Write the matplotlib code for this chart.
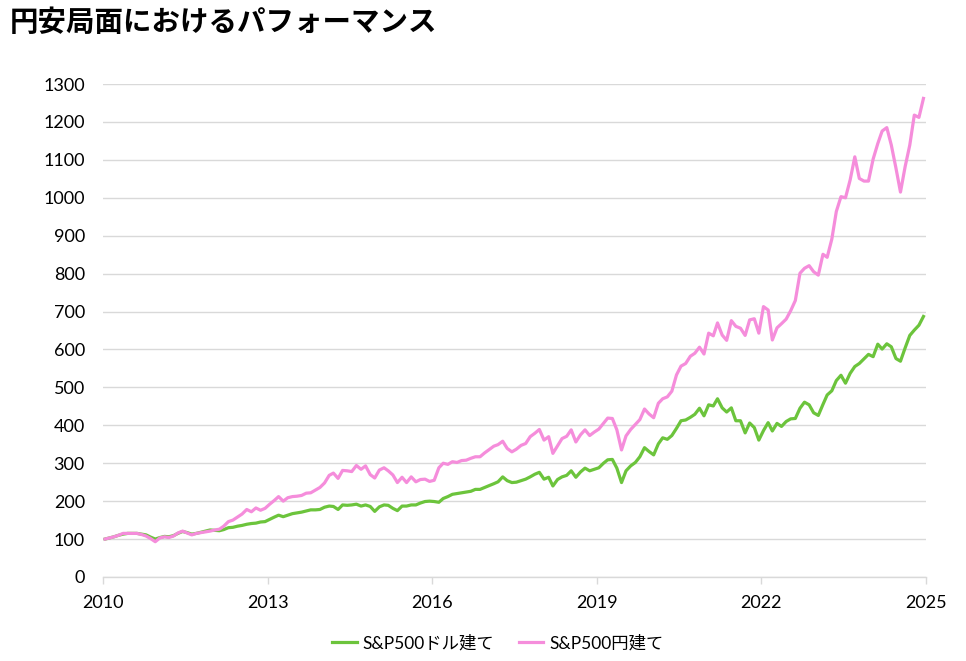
import numpy as np
import pandas as pd
import matplotlib
matplotlib.use("Agg")
import matplotlib.pyplot as plt
import matplotlib.dates as mdates

plt.rcParams['font.family'] = ['Lato', 'Noto Sans CJK JP', 'DejaVu Sans']

#%% data (monthly, Jan 2010 = 100)

months = pd.date_range('2010-01-01', periods=180, freq='MS') + pd.Timedelta(days=14)

sp500_usd = [
    100, 103, 106, 110, 113, 115, 115, 115, 113, 111, 105, 100,   # 2010
    104, 107, 106, 109, 115, 120, 117, 113, 115, 118, 121, 124,   # 2011
    123, 122, 125, 130, 131, 134, 136, 139, 141, 142, 145, 146,   # 2012
    152, 158, 163, 159, 163, 167, 169, 171, 174, 177, 177, 178,   # 2013
    184, 187, 186, 178, 190, 189, 190, 192, 187, 190, 186, 173,   # 2014
    185, 190, 189, 181, 175, 187, 187, 190, 190, 195, 199, 200,   # 2015
    199, 197, 207, 212, 218, 220, 222, 224, 226, 231, 231, 236,   # 2016
    241, 246, 251, 264, 254, 249, 250, 254, 258, 264, 271, 276,   # 2017
    258, 263, 240, 257, 264, 268, 280, 263, 277, 287, 280, 284,   # 2018
    288, 300, 309, 310, 287, 249, 280, 293, 302, 317, 341, 331,   # 2019
    322, 351, 367, 363, 373, 392, 412, 414, 421, 429, 445, 425,   # 2020
    454, 451, 470, 446, 435, 446, 412, 412, 380, 406, 394, 361,   # 2021
    386, 407, 385, 405, 397, 410, 417, 418, 445, 461, 454, 433,   # 2022
    426, 455, 480, 491, 518, 532, 511, 537, 555, 563, 575, 587,   # 2023
    581, 614, 601, 615, 607, 576, 569, 604, 637, 651, 664, 687,   # 2024
]

sp500_jpy = [
    100, 103, 106, 110, 115, 115, 115, 115, 112, 108, 101, 93,    # 2010
    103, 106, 104, 108, 116, 121, 116, 111, 115, 117, 119, 121,   # 2011
    124, 126, 134, 146, 150, 158, 166, 178, 172, 182, 176, 181,   # 2012
    192, 202, 212, 200, 209, 212, 213, 215, 221, 222, 229, 236,   # 2013
    248, 268, 274, 260, 281, 280, 278, 294, 284, 293, 270, 261,   # 2014
    282, 288, 280, 269, 249, 263, 249, 264, 251, 257, 258, 252,   # 2015
    255, 288, 300, 297, 304, 302, 307, 308, 313, 317, 317, 327,   # 2016
    336, 345, 349, 358, 339, 330, 337, 347, 352, 370, 379, 389,   # 2017
    361, 370, 326, 346, 365, 371, 388, 356, 375, 388, 373, 382,   # 2018
    390, 405, 419, 418, 388, 335, 372, 389, 402, 415, 443, 430,   # 2019
    420, 458, 470, 475, 490, 533, 556, 563, 582, 590, 606, 588,   # 2020
    643, 636, 670, 638, 624, 676, 661, 656, 637, 678, 681, 643,   # 2021
    713, 704, 625, 657, 668, 680, 702, 729, 801, 814, 821, 805,   # 2022
    796, 851, 843, 891, 964, 1003, 1000, 1047, 1108, 1051, 1044, 1044,  # 2023
    1102, 1143, 1176, 1185, 1139, 1078, 1015, 1082, 1139, 1218, 1212, 1262,  # 2024
]

label_usd = 'S&P500ドル建て'
label_jpy = 'S&P500円建て'
title = '円安局面におけるパフォーマンス'
year_ticks = [2010, 2013, 2016, 2019, 2022, 2025]

#%% plot

green = '#6CC43C'
pink = '#F58DDB'
grid_col = '#D9D9D9'

fig = plt.figure(figsize=(9.66, 6.61), dpi=100)
ax = fig.add_axes([0.1066, 0.1271, 0.852, 0.7458])

ax.plot(months, sp500_usd, color=green, lw=2.3, label=label_usd, solid_joinstyle='round')
ax.plot(months, sp500_jpy, color=pink, lw=2.3, label=label_jpy, solid_joinstyle='round')

ax.set_xlim(pd.Timestamp('2010-01-01'), pd.Timestamp('2025-01-01'))
ax.set_ylim(0, 1300)
ax.set_yticks(np.arange(0, 1301, 100))
ax.set_xticks([pd.Timestamp(f'{y}-01-01') for y in year_ticks])
ax.xaxis.set_major_formatter(mdates.DateFormatter('%Y'))

ax.grid(axis='y', color=grid_col, lw=1)
ax.set_axisbelow(True)
for s in ['top', 'right', 'left']:
    ax.spines[s].set_visible(False)
ax.spines['bottom'].set_color(grid_col)
ax.spines['bottom'].set_linewidth(1)
ax.tick_params(axis='y', length=0, pad=13, labelsize=13, colors='#000000')
ax.tick_params(axis='x', length=5, width=1, color=grid_col, pad=8, labelsize=13)

fig.text(0.01, 0.987, title, fontsize=20.5, fontweight='bold',
         family=['Noto Sans CJK JP'], va='top', ha='left')

ax.legend(loc='upper center', bbox_to_anchor=(0.48, -0.085), ncol=2, frameon=False,
          fontsize=12.5, handlelength=1.4, columnspacing=1.4, handletextpad=0.35)

fig.savefig('out.png', dpi=100)
